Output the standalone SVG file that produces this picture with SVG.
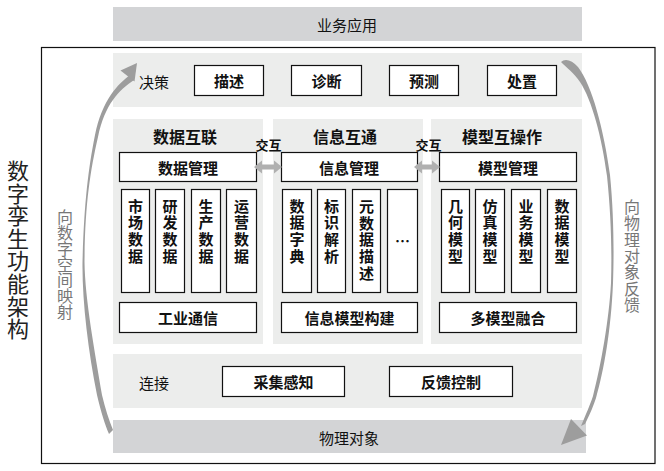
<svg xmlns="http://www.w3.org/2000/svg" width="664" height="471" viewBox="0 0 664 471">
<style>
text{font-family:"Noto Sans CJK SC","Liberation Sans",sans-serif;fill:#111;text-anchor:middle;dominant-baseline:central}
.v{writing-mode:vertical-rl;text-orientation:upright}
.bar{fill:#d3d4d6}
.row{fill:#ecedec}
.box{fill:#fff;stroke:#111;stroke-width:1.2}
.t15{font-size:15px}
.vb{font-size:15px;font-weight:700;letter-spacing:1.7px}
.b{font-weight:700}
.t16{font-size:16px;font-weight:700}
.side{font-size:16px;fill:#777}
.arc{fill:#9d9d9d}
.dbl{fill:#b0b0b0}
</style>
<rect x="0" y="0" width="664" height="471" fill="#fff"/>

<g id="title">
<text class="v" style="font-size:22px;fill:#222;letter-spacing:0.6px" x="18" y="250">数字孪生功能架构</text>
</g>

<g id="frame"><rect x="41.5" y="47.5" width="613.5" height="416" fill="none" stroke="#111" stroke-width="1.2"/></g>

<g id="app">
<rect class="bar" x="113" y="7" width="469" height="34"/>
<text class="t15" x="347" y="24">业务应用</text>
</g>

<g id="decision">
<rect class="row" x="113" y="53" width="469" height="54"/>
<text class="t15" x="154" y="81">决策</text>
<g id="n-miaoshu"><rect class="box" x="194.5" y="65.5" width="69" height="30"/><text class="t15 b" x="229" y="80.5">描述</text></g>
<g id="n-zhenduan"><rect class="box" x="291.5" y="65.5" width="70" height="30"/><text class="t15 b" x="326.5" y="80.5">诊断</text></g>
<g id="n-yuce"><rect class="box" x="389.5" y="65.5" width="69" height="30"/><text class="t15 b" x="424" y="80.5">预测</text></g>
<g id="n-chuzhi"><rect class="box" x="487.5" y="65.5" width="69" height="30"/><text class="t15 b" x="522" y="80.5">处置</text></g>
</g>

<g id="panel-data">
<rect class="row" x="113" y="119" width="150" height="225"/>
<text class="t16" x="185" y="136">数据互联</text>
<g id="n-datamgmt"><rect class="box" x="119.5" y="152.5" width="137" height="29"/><text class="t15 b" x="188" y="167">数据管理</text></g>
<g id="n-shichang"><rect class="box" x="121.5" y="189.5" width="28" height="103"/><text class="v vb" x="135.5" y="232">市场数据</text></g>
<g id="n-yanfa"><rect class="box" x="155.5" y="189.5" width="29" height="103"/><text class="v vb" x="170" y="232">研发数据</text></g>
<g id="n-shengchan"><rect class="box" x="191.5" y="189.5" width="29" height="103"/><text class="v vb" x="206" y="232">生产数据</text></g>
<g id="n-yunying"><rect class="box" x="226.5" y="189.5" width="30" height="103"/><text class="v vb" x="241.5" y="232">运营数据</text></g>
<g id="n-gongye"><rect class="box" x="119.5" y="302.5" width="137" height="30"/><text class="t15 b" x="188" y="317.5">工业通信</text></g>
</g>

<g id="panel-info">
<rect class="row" x="273" y="119" width="150" height="225"/>
<text class="t16" x="345" y="136">信息互通</text>
<g id="n-infomgmt"><rect class="box" x="281.5" y="152.5" width="136" height="29"/><text class="t15 b" x="349" y="167">信息管理</text></g>
<g id="n-zidian"><rect class="box" x="282.5" y="189.5" width="29" height="103"/><text class="v vb" x="297" y="232">数据字典</text></g>
<g id="n-biaoshi"><rect class="box" x="317.5" y="189.5" width="28" height="103"/><text class="v vb" x="331.5" y="232">标识解析</text></g>
<g id="n-yuanshuju"><rect class="box" x="352.5" y="189.5" width="28" height="103"/><text class="v vb" x="366.5" y="240.4">元数据描述</text></g>
<g id="n-more"><rect class="box" x="387.5" y="189.5" width="30" height="103"/><text class="t15 b" x="402.5" y="240">…</text></g>
<g id="n-infomodel"><rect class="box" x="281.5" y="302.5" width="136" height="30"/><text class="t15 b" x="349.5" y="317.5">信息模型构建</text></g>
</g>

<g id="panel-model">
<rect class="row" x="431" y="119" width="151" height="225"/>
<text class="t16" x="502" y="136">模型互操作</text>
<g id="n-modelmgmt"><rect class="box" x="439.5" y="152.5" width="137" height="29"/><text class="t15 b" x="508" y="167">模型管理</text></g>
<g id="n-jihe"><rect class="box" x="441.5" y="189.5" width="28" height="103"/><text class="v vb" x="455.5" y="232">几何模型</text></g>
<g id="n-fangzhen"><rect class="box" x="475.5" y="189.5" width="29" height="103"/><text class="v vb" x="490" y="232">仿真模型</text></g>
<g id="n-yewu"><rect class="box" x="511.5" y="189.5" width="29" height="103"/><text class="v vb" x="526" y="232">业务模型</text></g>
<g id="n-shujumx"><rect class="box" x="547.5" y="189.5" width="29" height="103"/><text class="v vb" x="562" y="232">数据模型</text></g>
<g id="n-fusion"><rect class="box" x="439.5" y="302.5" width="137" height="30"/><text class="t15 b" x="508" y="317.5">多模型融合</text></g>
</g>

<g id="connect">
<rect class="row" x="113" y="354" width="469" height="54"/>
<text class="t15" x="154" y="382">连接</text>
<g id="n-caiji"><rect class="box" x="222.5" y="366.5" width="122" height="30"/><text class="t15 b" x="283.5" y="381">采集感知</text></g>
<g id="n-fankui"><rect class="box" x="389.5" y="366.5" width="123" height="30"/><text class="t15 b" x="451" y="381">反馈控制</text></g>
</g>

<g id="physical">
<rect class="bar" x="113" y="420" width="473" height="33"/>
<text class="t15" x="349" y="437">物理对象</text>
</g>

<g id="labels">
<text class="v side" style="letter-spacing:-0.2px" x="65" y="264.4">向数字空间映射</text>
<text class="v side" style="letter-spacing:0.3px" x="632" y="256">向物理对象反馈</text>
<text class="b" style="font-size:13px" x="268.5" y="144">交互</text>
<text class="b" style="font-size:13px" x="428.5" y="144">交互</text>
</g>

<g id="connectors">
<path class="dbl" d="M254,167 L262,160.5 L262,164.5 L274,164.5 L274,160.5 L282,167 L274,173.5 L274,169.5 L262,169.5 L262,173.5 Z"/>
<path class="dbl" d="M414,167 L422,160.5 L422,164.5 L432,164.5 L432,160.5 L440,167 L432,173.5 L432,169.5 L422,169.5 L422,173.5 Z"/>
<path class="arc" d="M130,75 C118,84 102,100 95,135 C88,170 84,205 82.5,262 C82,300 88,350 97,395 C101,412 105,425 109,434 L113,430 C109,420 105,408 102,395 C95,352 85,300 84.5,262 C85,205 90,172 98,137 C105,104 119,90 134,80 Z"/>
<path class="arc" d="M137,63 L120.5,70.5 L134.5,81.5 Z"/>
<path class="arc" d="M561,62 C565,58 572,60 578,67 C592,85 604,130 610,175 C614,215 614,255 613,283 C611,330 604,370 596,398 C592,410 588,418 585,424 L581,426 C586,414 590,405 593,396 C601,365 609,320 611,283 C612,250 611,215 607,176 C602,138 592,100 580,82 C574,73 566,67 561,62 Z"/>
<path class="arc" d="M561,445 L571,419 L587,435.5 Z"/>
</g>
</svg>
